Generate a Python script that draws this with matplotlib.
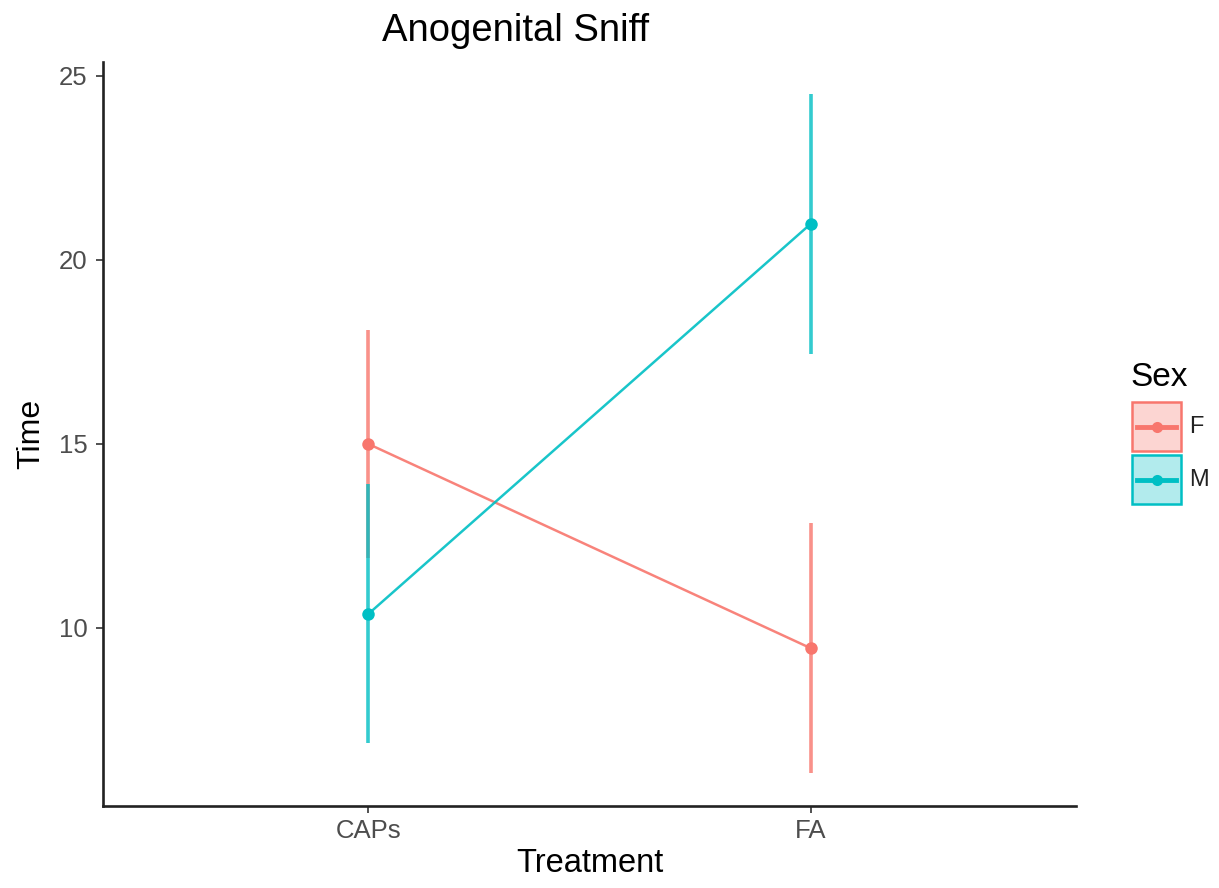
import matplotlib
matplotlib.use('Agg')
import matplotlib.pyplot as plt
from matplotlib.patches import Rectangle
from matplotlib.lines import Line2D
import numpy as np

plt.rcParams['font.family'] = ['Liberation Sans', 'DejaVu Sans']

###############################################################
# data
###############################################################
treatments = ['CAPs', 'FA']
sexes = ['F', 'M']
colors = {'F': '#F8766D', 'M': '#00BFC4'}
means = {'F': [15.0, 9.45], 'M': [10.38, 20.98]}
upper = {'F': [18.1, 12.85], 'M': [13.9, 24.5]}
lower = {'F': [11.9, 6.05], 'M': [6.87, 17.45]}

###############################################################
# figure
###############################################################
fig = plt.figure(figsize=(12.19, 8.88), dpi=100)
ax = fig.add_axes([0.0845, 0.0923, 0.7982, 0.8379])

x = np.arange(1, len(treatments) + 1)
for s in sexes:
    c = colors[s]
    ax.vlines(x, lower[s], upper[s], color=c, linewidth=2.6, alpha=0.8, zorder=2)
    ax.plot(x, means[s], color=c, linewidth=1.8, alpha=0.9, zorder=3)
    ax.plot(x, means[s], 'o', color=c, markersize=9, zorder=4, markeredgewidth=0)

ax.set_xlim(0.4, 2.6)
ax.set_ylim(5.16, 25.38)
ax.set_xticks(x)
ax.set_xticklabels(treatments)
ax.set_yticks([10, 15, 20, 25])

for side in ['top', 'right']:
    ax.spines[side].set_visible(False)
for side in ['left', 'bottom']:
    ax.spines[side].set_linewidth(1.9)
    ax.spines[side].set_color('#222222')
ax.tick_params(axis='both', length=5, width=1.2, color='#333333',
               labelcolor='#4D4D4D', labelsize=18.5, pad=4)
ax.tick_params(axis='y', pad=6)

ax.set_xlabel('Treatment', fontsize=23.5, labelpad=4)
ax.set_ylabel('Time', fontsize=23, labelpad=9)
fig.text(0.423, 0.965, 'Anogenital Sniff', fontsize=27.5, ha='center', va='center')

###############################################################
# legend (drawn by hand, ggplot style)
###############################################################
W, H = 1219.0, 888.0
fig.text(1130 / W, 1 - 377 / H, 'Sex', fontsize=24, ha='left', va='center')
for i, s in enumerate(sexes):
    c = colors[s]
    y0 = 402 + i * 53
    fig.add_artist(Rectangle((1132 / W, 1 - (y0 + 49) / H), 49 / W, 49 / H,
                             transform=fig.transFigure, facecolor=c, alpha=0.3,
                             edgecolor='none'))
    fig.add_artist(Rectangle((1132 / W, 1 - (y0 + 49) / H), 49 / W, 49 / H,
                             transform=fig.transFigure, facecolor='none',
                             edgecolor=c, linewidth=1.8))
    yc = 1 - (y0 + 25) / H
    fig.add_artist(Line2D([1137 / W, 1176 / W], [yc, yc], transform=fig.transFigure,
                          color=c, linewidth=3.5))
    fig.add_artist(Line2D([1157 / W], [yc], transform=fig.transFigure, marker='o',
                          color=c, markersize=8, markeredgewidth=0))
    fig.text(1189 / W, yc, s, fontsize=17, color='#222222', ha='left', va='center')

fig.savefig('out.png', dpi=100)
